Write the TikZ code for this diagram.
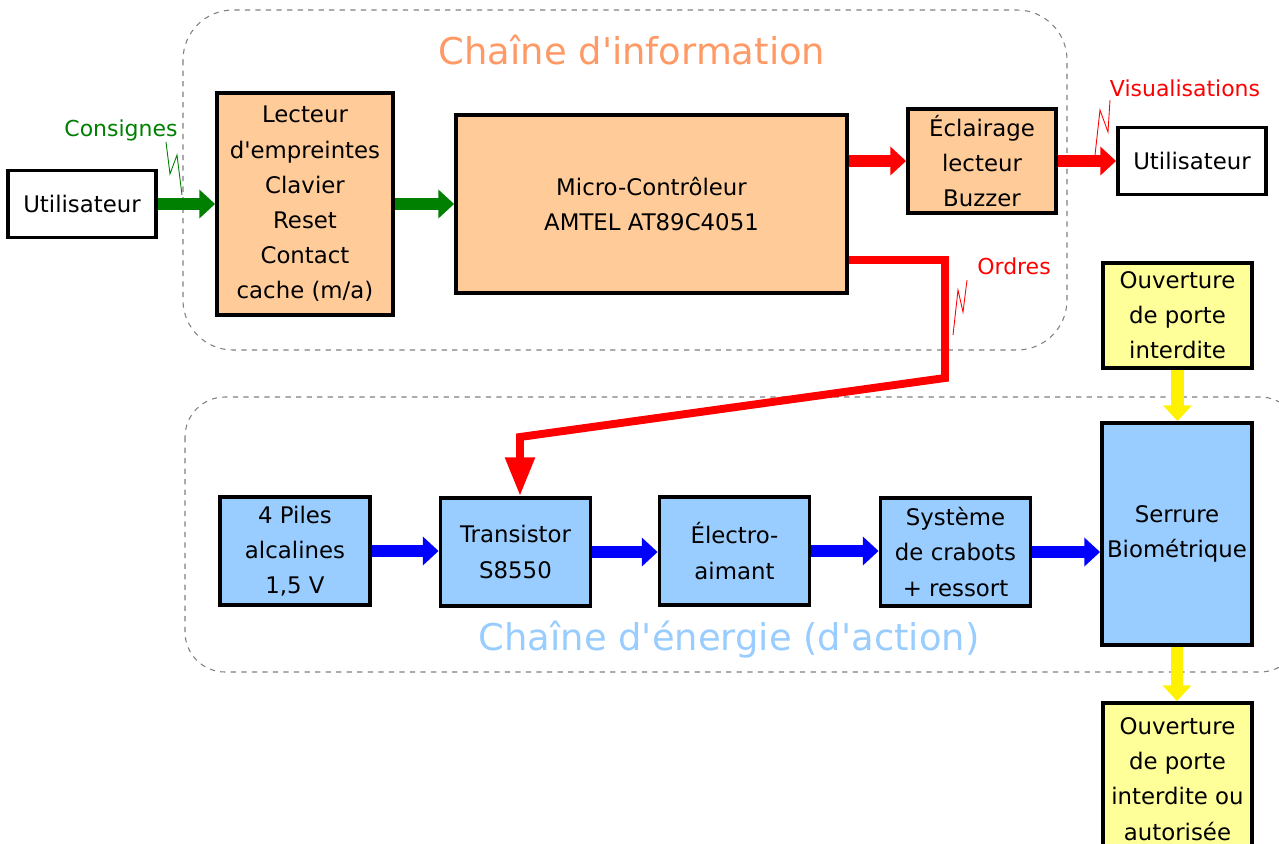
\documentclass[tikz,border=0pt]{standalone}
\usepackage{fontspec}
\setmainfont{DejaVu Sans}
\usepackage{xcolor}
\usepackage{tikz}
\usetikzlibrary{arrows.meta,calc}

\definecolor{peche}{HTML}{FFCC99}
\definecolor{jaune}{HTML}{FFFF99}
\definecolor{bleuclair}{HTML}{99CCFF}
\definecolor{vert}{HTML}{008000}
\definecolor{orangeinfo}{HTML}{FF9966}

\begin{document}
\begin{tikzpicture}[x=0.02cm,y=-0.02cm,
  bloc/.style={draw,line width=2.2pt,align=center,inner sep=0pt,font=\fontsize{13}{20}\selectfont},
  info/.style={bloc,fill=peche},
  act/.style={bloc,fill=bleuclair,minimum width=3cm,minimum height=2.16cm},
  porte/.style={bloc,fill=jaune,minimum width=2.98cm},
  user/.style={bloc,fill=white,minimum width=2.96cm,minimum height=1.34cm},
  chaine/.style={draw=gray,dashed,line width=0.6pt},
  titre/.style={font=\fontsize{21}{24}\selectfont},
  lbl/.style={font=\fontsize{12.5}{14}\selectfont},
  fl/.style={line width=7pt,-{Triangle[length=9pt,width=16pt]}},
  zz/.style={line width=0.5pt}]
  \useasboundingbox (0,0) rectangle (1279,843);
  \clip (0,0) rectangle (1279,843);

  \draw[chaine,rounded corners=1cm] (183,10) rectangle (1067,350);
  \draw[chaine,rounded corners=0.8cm] (185,397) rectangle (1300,672);
  \node[titre,text=orangeinfo] (tinfo) at (632,50) {Chaîne d\textquotesingle information};
  \node[titre,text=bleuclair] (tener) at (729,640) {Chaîne d\textquotesingle énergie (d\textquotesingle action)};

  \node[user] (user1) at (82,204) {Utilisateur};
  \node[info,minimum width=3.52cm,minimum height=4.44cm] (lect) at (305,204)
    {Lecteur\\d\textquotesingle empreintes\\Clavier\\Reset\\Contact\\cache (m/a)};
  \node[info,minimum width=7.82cm,minimum height=3.56cm] (micro) at (651.5,204)
    {Micro-Contrôleur\\AMTEL AT89C4051};
  \node[info,minimum width=2.96cm,minimum height=2.08cm] (ecl) at (982,161)
    {Éclairage\\lecteur\\Buzzer};
  \node[user] (user2) at (1192,161) {Utilisateur};

  \node[porte,minimum height=2.1cm] (ouv1) at (1177.5,315.5) {Ouverture\\de porte\\interdite};
  \node[act,minimum height=4.44cm] (serr) at (1177,534) {Serrure\\Biométrique};
  \node[porte,minimum height=3.04cm] (ouv2) at (1177.5,779) {Ouverture\\de porte\\interdite ou\\autorisée};

  \node[act] (piles) at (295,551) {4 Piles\\alcalines\\1,5 V};
  \node[act] (trans) at (515.5,552) {Transistor\\S8550};
  \node[act] (elec) at (734.5,551) {Électro-\\aimant};
  \node[act] (sys) at (955.5,552) {Système\\de crabots\\+ ressort};

  \draw[fl,vert] (user1.east) -- (user1.east -| lect.west);
  \draw[fl,vert] (lect.east) -- (micro.west);
  \draw[fl,red] (micro.east |- ecl) -- (ecl.west);
  \draw[fl,red] (ecl.east) -- (ecl.east -| user2.west);
  \draw[fl,blue] (piles.east) -- (piles.east -| trans.west);
  \draw[fl,blue] (trans.east) -- (trans.east -| elec.west);
  \draw[fl,blue] (elec.east) -- (elec.east -| sys.west);
  \draw[fl,blue] (sys.east) -- (sys.east -| serr.west);
  \draw[fl,yellow] (ouv1.south) -- (ouv1.south |- serr.north);
  \draw[fl,yellow] (serr.south) -- (serr.south |- ouv2.north);

  \coordinate (o1) at (945,260);
  \coordinate (o2) at (945,378);
  \coordinate (o3) at (520,437);
  \draw[red,line width=4.5pt,-{Triangle[length=22pt,width=16pt]}]
    (micro.east |- o1) -- (o1) -- (o2) -- (o3) -- (o3 |- trans.north);

  \node[lbl,text=vert] (cons) at (121,130) {Consignes};
  \node[lbl,text=red] (visu) at (1185,88) {Visualisations};
  \node[lbl,text=red] (ordr) at (1014,266) {Ordres};
  \draw[zz,vert] (166,142) -- (170,174) -- (177,155) -- (182,195);
  \draw[zz,red] (1110,100) -- (1108,132) -- (1100,110) -- (1095,155);
  \draw[zz,red] (967,280) -- (963,312) -- (958,290) -- (953,335);
\end{tikzpicture}
\end{document}
